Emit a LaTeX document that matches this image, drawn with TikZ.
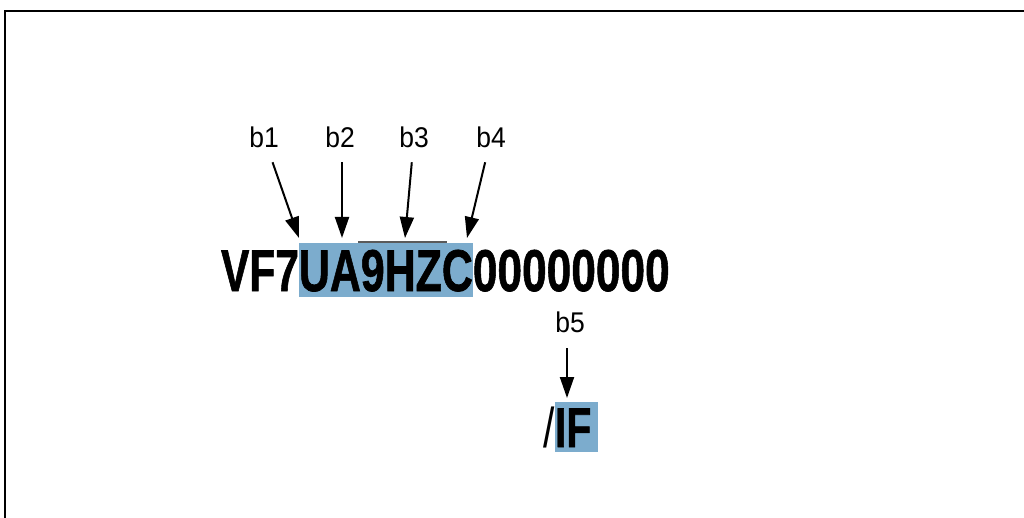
\documentclass[tikz,border=0pt]{standalone}
\usepackage{fontspec}
\setmainfont{Liberation Sans}
\newfontfamily\heavyfont[FakeBold=1.2]{Liberation Sans Bold}
\usetikzlibrary{arrows.meta}
\definecolor{hl}{RGB}{124,172,205}
\definecolor{ulgray}{RGB}{90,90,90}
\begin{document}
\begin{tikzpicture}[x=1pt,y=-1pt,
  bigtxt/.style={inner sep=0pt,outer sep=0pt,font=\fontsize{59}{59}\heavyfont},
  smalltxt/.style={inner sep=0pt,outer sep=0pt,font=\fontsize{56}{56}\heavyfont},
  hlbox/.style={fill=hl},
  lab/.style={inner sep=2pt,outer sep=12pt,font=\fontsize{28.5}{28.5}\selectfont},
  arr/.style={line width=2pt,-{Triangle[length=21pt,width=14pt]}}]
\useasboundingbox (0,0) rectangle (1024,518);
% frame
\draw[line width=2pt] (5,540) -- (5,11) -- (1040,11);
% main code
\node[bigtxt,anchor=base west] (p1) at (221,291) {\scalebox{0.72}[1]{VF7}};
\node[bigtxt,hlbox,anchor=base west,text height=48pt,text depth=6pt] (p2) at (p1.base east) {\scalebox{0.727}[1]{UA9HZC}};
\node[bigtxt,anchor=base west] (p3) at (p2.base east) {\scalebox{0.75}[1]{00000000}};
% underline near b3
\coordinate (u1) at (358,242);
\coordinate (u2) at (447,242);
\draw[ulgray,line width=1.5pt] (u1) -- (u2);
% labels
\node[lab,anchor=base] (b1) at (264,148) {\scalebox{0.93}[1]{b1}};
\node[lab,anchor=base] (b2) at (340,148) {\scalebox{0.93}[1]{b2}};
\node[lab,anchor=base] (b3) at (414,148) {\scalebox{0.93}[1]{b3}};
\node[lab,anchor=base] (b4) at (491,148) {\scalebox{0.93}[1]{b4}};
\coordinate (t1) at (299,238);
\coordinate (t2) at (342,238);
\coordinate (t3) at (405,238);
\coordinate (t4) at (467,238);
\draw[arr] (b1) -- (t1);
\draw[arr] (b2.south -| t2) -- (t2);
\draw[arr] (b3) -- (t3);
\draw[arr] (b4) -- (t4);
% IF
\node[smalltxt,hlbox,anchor=base west,text height=45pt,text depth=5pt] (q2) at (555,447) {\scalebox{0.73}[1]{IF}\kern7pt\relax};
\node[inner sep=0pt,anchor=base east,font=\fontsize{56}{56}\selectfont] (q1) at (q2.base west) {\scalebox{0.726}[1]{/}};
\node[lab,anchor=base,outer sep=14pt] (b5) at (570,332) {\scalebox{0.93}[1]{b5}};
\coordinate (t5) at (567,398);
\draw[arr] (b5.south -| t5) -- (t5);
\end{tikzpicture}
\end{document}
